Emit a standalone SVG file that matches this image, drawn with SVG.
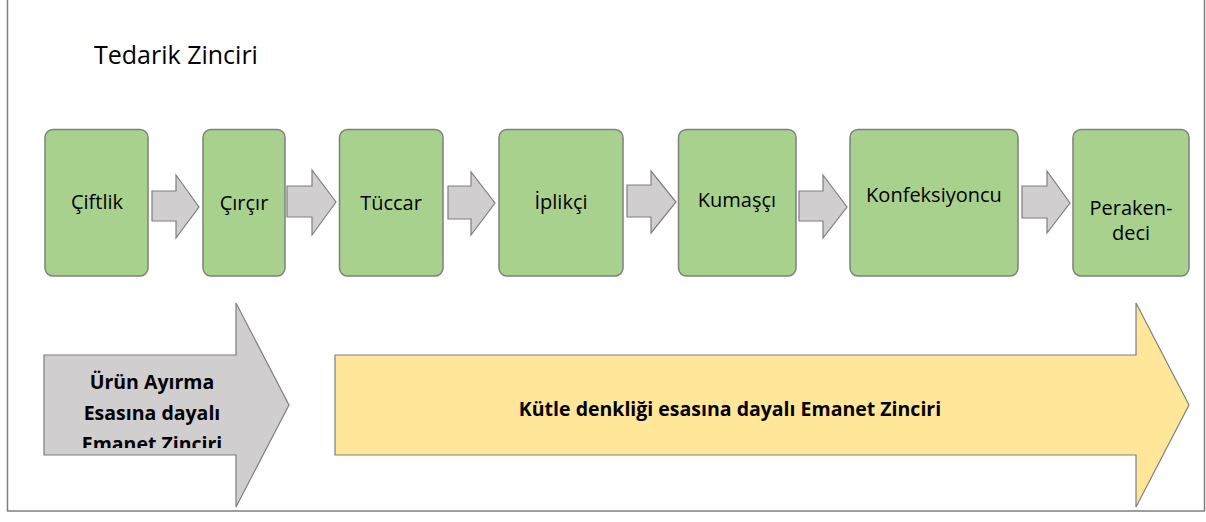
<svg xmlns="http://www.w3.org/2000/svg" width="1206" height="522" viewBox="0 0 1206 522">
<style>
.node{fill:#A9D18E;stroke:#7F7F7F;stroke-width:1.5}
.lbl{font-family:"Open Sans","Liberation Sans",sans-serif;font-size:20px;fill:#000;text-anchor:middle}
.conn{fill:#D0CECE;stroke:#7F7F7F;stroke-width:1.2;stroke-linejoin:miter}
.big{font-family:"Open Sans","Liberation Sans",sans-serif;font-size:19.5px;font-weight:bold;fill:#000;text-anchor:middle}
</style>
<defs>
<clipPath id="clipGrey"><rect x="44" y="355" width="200" height="93"/></clipPath>
</defs>
<rect x="0" y="0" width="1206" height="522" fill="#FFFFFF"/>
<rect id="frame" x="7.5" y="-5" width="1197" height="516" fill="none" stroke="#7F7F7F" stroke-width="1.5"/>
<text x="94" y="64" font-family="'Open Sans','Liberation Sans',sans-serif" font-size="25" fill="#000">Tedarik Zinciri</text>

<g id="connectors">
<polygon class="conn" points="152,191 176,191 176,175 199,207 176,238 176,221 152,221"/>
<polygon class="conn" points="287,186 312,186 312,170 336,202 312,235 312,217 287,217"/>
<polygon class="conn" points="448,186 471,186 471,172 495,203 471,235 471,219 448,219"/>
<polygon class="conn" points="627,185 651,185 651,171 676,202 651,233 651,217 627,217"/>
<polygon class="conn" points="799,191 823,191 823,175 847,207 823,238 823,221 799,221"/>
<polygon class="conn" points="1022,186 1047,186 1047,171 1070,203 1047,233 1047,218 1022,218"/>
</g>

<g id="n-ciftlik">
<rect class="node" x="45" y="129.5" width="103" height="146.5" rx="8"/>
<text class="lbl" x="97" y="209">Çiftlik</text>
</g>
<g id="n-circir">
<rect class="node" x="203" y="129.5" width="82" height="146.5" rx="8"/>
<text class="lbl" x="244" y="210">Çırçır</text>
</g>
<g id="n-tuccar">
<rect class="node" x="339.5" y="129.5" width="103.5" height="146.5" rx="8"/>
<text class="lbl" x="391" y="210">Tüccar</text>
</g>
<g id="n-iplikci">
<rect class="node" x="499" y="129.5" width="124" height="146.5" rx="8"/>
<text class="lbl" x="561" y="209">İplikçi</text>
</g>
<g id="n-kumasci">
<rect class="node" x="678.5" y="129.5" width="117.5" height="146.5" rx="8"/>
<text class="lbl" x="737" y="207">Kumaşçı</text>
</g>
<g id="n-konfeksiyoncu">
<rect class="node" x="850" y="129.5" width="168" height="146.5" rx="8"/>
<text class="lbl" x="934" y="202">Konfeksiyoncu</text>
</g>
<g id="n-perakendeci">
<rect class="node" x="1073" y="129.5" width="116" height="146.5" rx="8"/>
<text class="lbl" x="1131" y="215">Peraken-</text>
<text class="lbl" x="1131" y="240">deci</text>
</g>

<g id="n-urun-ayirma">
<polygon fill="#D0CECE" stroke="#7F7F7F" stroke-width="1.2" points="44,355 236,355 236,303 289,405 236,507 236,455 44,455"/>
<g clip-path="url(#clipGrey)">
<text class="big" x="152" y="389">Ürün Ayırma</text>
<text class="big" x="152" y="420">Esasına dayalı</text>
<text class="big" x="152" y="451">Emanet Zinciri</text>
</g>
</g>

<g id="n-kutle-denkligi">
<polygon fill="#FFE699" stroke="#7F7F7F" stroke-width="1.2" points="335,355 1136,355 1136,303 1189,405 1136,507 1136,455 335,455"/>
<text class="big" x="730" y="416">Kütle denkliği esasına dayalı Emanet Zinciri</text>
</g>
</svg>
